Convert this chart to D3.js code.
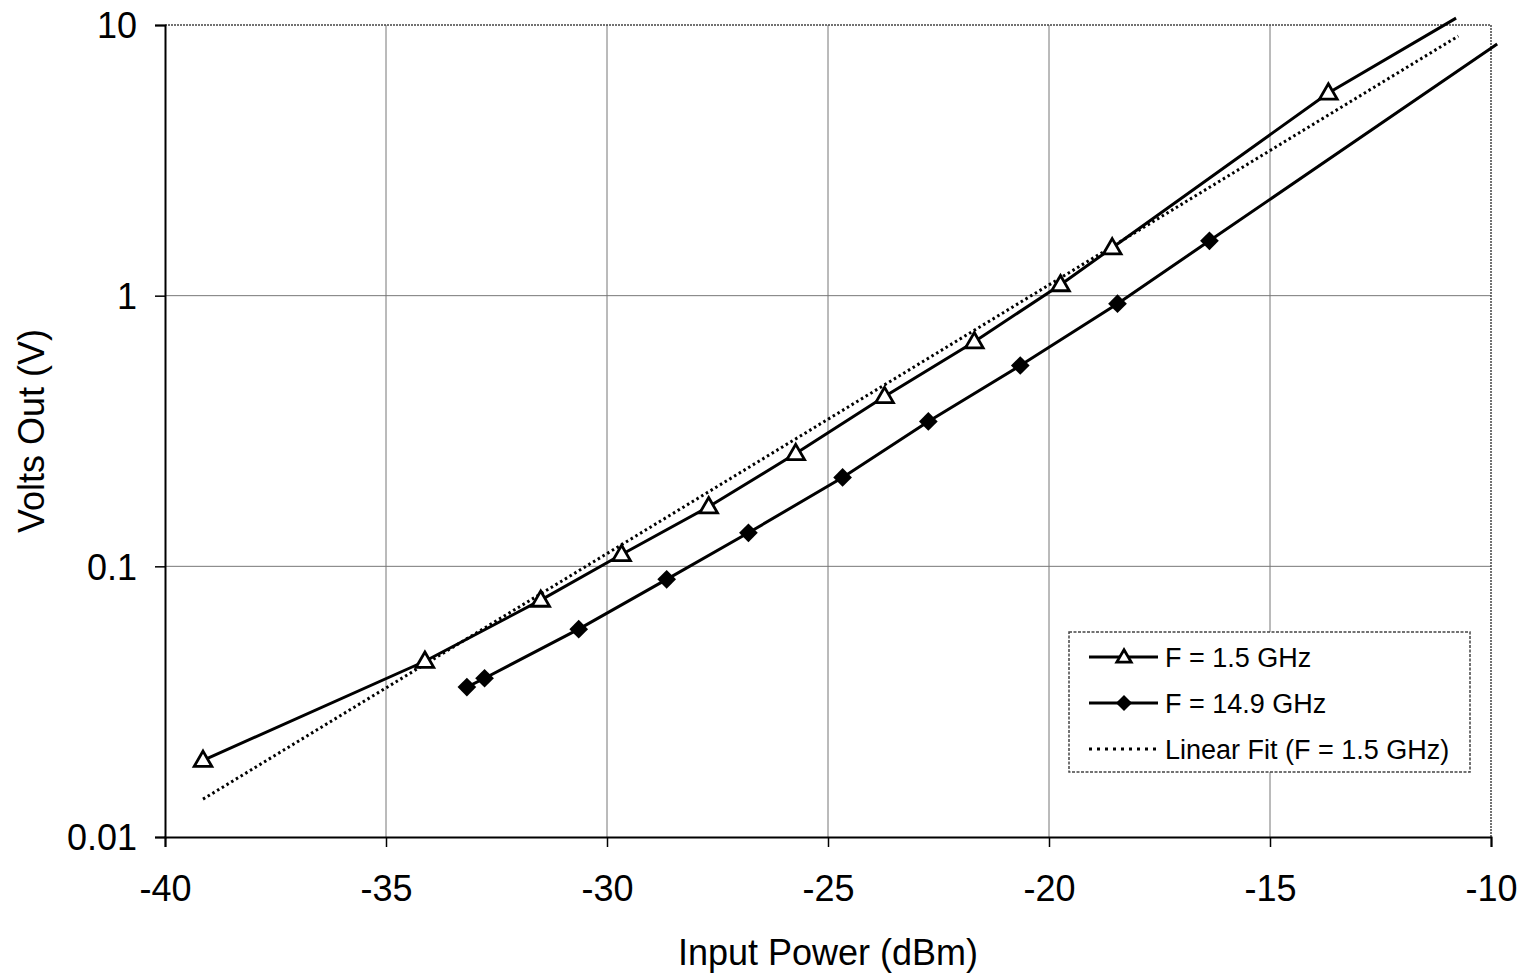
<!DOCTYPE html>
<html>
<head>
<meta charset="utf-8">
<script src="https://cdn.jsdelivr.net/npm/d3@7"></script>
<style>
  body { margin: 0; background: #fff; }
  svg { font-family: "Liberation Sans", Arial, Helvetica, sans-serif; }
</style>
</head>
<body>
<svg id="chart" width="1519" height="975"></svg>
<script>
// F = 1.5 GHz measured points (dBm, V); the last point is the run-off past the top
const powerLow = [-39.14, -34.12, -31.50, -29.67, -27.70, -25.73, -23.72, -21.69, -19.74, -18.57, -13.68, -10.79];
const voltsLow = [0.0192, 0.0446, 0.0750, 0.1106, 0.166, 0.261, 0.424, 0.676, 1.098, 1.503, 5.61, 10.6];

// F = 14.9 GHz measured points; last point runs past the right edge
const powerHigh = [-33.17, -32.77, -30.64, -28.65, -26.80, -24.67, -22.73, -20.65, -18.45, -16.37, -9.86];
const voltsHigh = [0.0358, 0.0386, 0.0586, 0.0895, 0.133, 0.213, 0.343, 0.552, 0.934, 1.595, 8.5];

// linear (exponential in V) fit to F = 1.5 GHz, end points
const fitPower = [-39.14, -10.74];
const fitVolts = [0.0138, 9.1];

const xTicks = [-40, -35, -30, -25, -20, -15, -10];
const yTicks = [0.01, 0.1, 1, 10];
const yTickLabels = ['0.01', '0.1', '1', '10'];

const legendLabels = ['F = 1.5 GHz', 'F = 14.9 GHz', 'Linear Fit (F = 1.5 GHz)'];

const svg = d3.select('#chart');
const margin = {left: 165, right: 28, top: 25, bottom: 138};
const width = 1519, height = 975;

const x = d3.scaleLinear()
  .domain([-40, -10])
  .range([margin.left, width - margin.right]);

const y = d3.scaleLog()
  .domain([0.01, 10])
  .range([height - margin.bottom, margin.top]);

const zip = (xs, ys) => xs.map((d, i) => [d, ys[i]]);
const inside = d => d[0] >= -40 && d[0] <= -10 && d[1] >= 0.01 && d[1] <= 10;

// grid
svg.append('g').selectAll('line')
  .data(xTicks.slice(1, -1))
  .join('line')
    .attr('x1', d => x(d)).attr('x2', d => x(d))
    .attr('y1', y(10)).attr('y2', y(0.01))
    .attr('stroke', '#777').attr('stroke-width', 1);

svg.append('g').selectAll('line')
  .data(yTicks.slice(1, -1))
  .join('line')
    .attr('x1', x(-40)).attr('x2', x(-10))
    .attr('y1', d => y(d)).attr('y2', d => y(d))
    .attr('stroke', '#777').attr('stroke-width', 1);

// plot frame (top + right)
svg.append('path')
  .attr('d', `M${x(-40)},${y(10)}H${x(-10)}V${y(0.01)}`)
  .attr('fill', 'none')
  .attr('stroke', '#444')
  .attr('stroke-width', 1.5)
  .attr('stroke-dasharray', '2,1');

// axes
const xAxis = svg.append('g')
  .attr('transform', `translate(0,${y(0.01)})`)
  .call(d3.axisBottom(x).tickValues(xTicks).tickSize(10).tickPadding(28).tickFormat(d3.format('d')));

const yAxis = svg.append('g')
  .attr('transform', `translate(${x(-40)},0)`)
  .call(d3.axisLeft(y).tickValues(yTicks).tickSize(10).tickPadding(18)
    .tickFormat((d, i) => yTickLabels[i]));

[xAxis, yAxis].forEach(a => {
  a.select('.domain').attr('stroke', '#000').attr('stroke-width', 2);
  a.selectAll('.tick line').attr('stroke', '#000').attr('stroke-width', 1.5);
  a.selectAll('.tick text')
    .attr('font-size', 36)
    .attr('fill', '#000')
    .attr('font-family', '"Liberation Sans", Arial, sans-serif');
});
xAxis.selectAll('.tick text').text(d => d3.format('d')(d).replace('\u2212', '-'));
yAxis.selectAll('.tick text').attr('dy', '0.36em');

// axis titles
svg.append('text')
  .attr('x', (x(-40) + x(-10)) / 2)
  .attr('y', 965)
  .attr('text-anchor', 'middle')
  .attr('font-size', 36)
  .text('Input Power (dBm)');

svg.append('text')
  .attr('transform', `translate(44,${(y(10) + y(0.01)) / 2}) rotate(-90)`)
  .attr('text-anchor', 'middle')
  .attr('font-size', 36)
  .text('Volts Out (V)');

const line = d3.line().x(d => x(d[0])).y(d => y(d[1]));

// fit line
svg.append('path')
  .datum(zip(fitPower, fitVolts))
  .attr('d', line)
  .attr('fill', 'none')
  .attr('stroke', '#000')
  .attr('stroke-width', 3)
  .attr('stroke-dasharray', '2.5,3');

const lowData = zip(powerLow, voltsLow);
const highData = zip(powerHigh, voltsHigh);

[lowData, highData].forEach(data => {
  svg.append('path')
    .datum(data)
    .attr('d', line)
    .attr('fill', 'none')
    .attr('stroke', '#000')
    .attr('stroke-width', 3);
});

const triangle = d3.symbol().type(d3.symbolTriangle).size(135);
const diamond = d3.symbol().type(d3.symbolSquare).size(175);

svg.append('g').selectAll('path')
  .data(lowData.filter(inside))
  .join('path')
    .attr('transform', d => `translate(${x(d[0])},${y(d[1]) + 1})`)
    .attr('d', triangle)
    .attr('fill', '#fff')
    .attr('stroke', '#000')
    .attr('stroke-width', 2.8);

svg.append('g').selectAll('path')
  .data(highData.filter(inside))
  .join('path')
    .attr('transform', d => `translate(${x(d[0])},${y(d[1])}) rotate(45)`)
    .attr('d', diamond)
    .attr('fill', '#000');

// legend
const lg = svg.append('g').attr('transform', `translate(${x(-40) + 904},${y(10) + 607})`);
lg.append('rect')
  .attr('width', 401).attr('height', 140)
  .attr('fill', '#fff')
  .attr('stroke', '#444')
  .attr('stroke-width', 1.5)
  .attr('stroke-dasharray', '3,1.5');

const rows = lg.selectAll('g.row')
  .data(legendLabels)
  .join('g')
    .attr('class', 'row')
    .attr('transform', (d, i) => `translate(0,${25 + i * 46})`);

rows.append('line')
  .attr('x1', 20).attr('x2', 89)
  .attr('stroke', '#000')
  .attr('stroke-width', 2.8)
  .attr('stroke-dasharray', (d, i) => i === 2 ? '3,5' : null);

rows.filter((d, i) => i === 0).append('path')
  .attr('transform', 'translate(55,1)')
  .attr('d', d3.symbol().type(d3.symbolTriangle).size(90))
  .attr('fill', '#fff').attr('stroke', '#000').attr('stroke-width', 2.8);

rows.filter((d, i) => i === 1).append('path')
  .attr('transform', 'translate(55,0) rotate(45)')
  .attr('d', d3.symbol().type(d3.symbolSquare).size(130))
  .attr('fill', '#000');

rows.append('text')
  .attr('x', 96)
  .attr('dy', '0.36em')
  .attr('font-size', 27)
  .text(d => d);
</script>
</body>
</html>
